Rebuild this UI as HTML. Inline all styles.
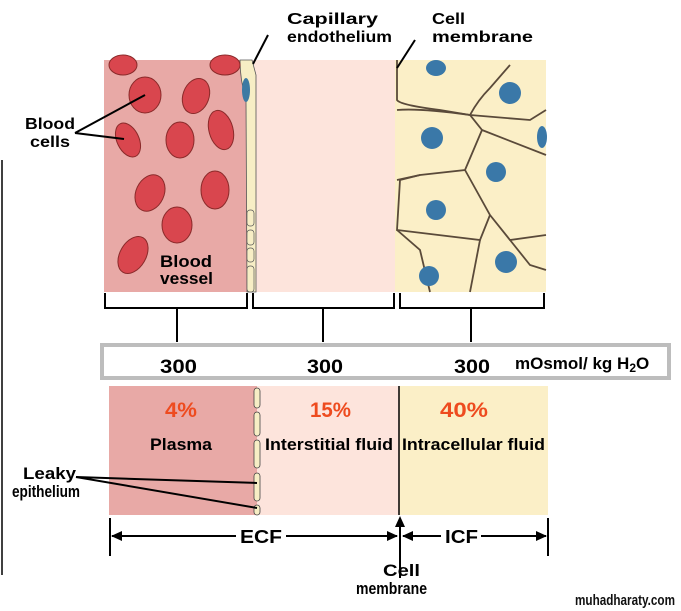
<!DOCTYPE html>
<html><head><style>body{margin:0;background:#fff}svg{display:block}text{font-family:"Liberation Sans",Arial,sans-serif;font-weight:bold}</style></head>
<body>
<svg width="681" height="611" viewBox="0 0 681 611" xmlns="http://www.w3.org/2000/svg">
<line x1="2" y1="160" x2="2" y2="575" stroke="#000" stroke-width="1.5"/>
<rect x="104" y="60" width="143" height="232" fill="#e8a9a6"/>
<rect x="252" y="60" width="143" height="232" fill="#fde4dc"/>
<rect x="395" y="60" width="151" height="232" fill="#fbefc7"/>
<path d="M240 60 L252 60 L256 75 L256 292 L247 292 L246 100 Q240 80 240 60Z" fill="#f7eec5" stroke="#555" stroke-width="0.8"/>
<ellipse cx="246" cy="90" rx="4" ry="12" fill="#3d7aa3"/>
<g fill="#d9464e" stroke="#8a2a2a" stroke-width="1">
<ellipse cx="123" cy="65" rx="14" ry="10"/><ellipse cx="145" cy="95" rx="16" ry="18"/><ellipse cx="196" cy="96" rx="13" ry="18" transform="rotate(20 196 96)"/>
<ellipse cx="225" cy="65" rx="15" ry="10"/><ellipse cx="128" cy="140" rx="11" ry="18" transform="rotate(-25 128 140)"/>
<ellipse cx="180" cy="140" rx="14" ry="18"/><ellipse cx="221" cy="130" rx="12" ry="20" transform="rotate(-15 221 130)"/>
<ellipse cx="150" cy="193" rx="14" ry="19" transform="rotate(25 150 193)"/><ellipse cx="215" cy="190" rx="14" ry="19"/>
<ellipse cx="177" cy="225" rx="15" ry="18"/><ellipse cx="133" cy="255" rx="13" ry="20" transform="rotate(30 133 255)"/>
</g>
<g fill="none" stroke="#5a4a3a" stroke-width="1.8">
<path d="M397 60 L397 100 Q400 105 440 110 L470 115 Q478 100 490 88 L510 65"/>
<path d="M397 110 Q420 108 470 115 L482 130 L465 170 L420 175 L397 180"/>
<path d="M470 115 L530 120 L546 110"/>
<path d="M482 130 L546 155"/><path d="M465 170 L490 215 L510 240 L546 235"/>
<path d="M420 175 L400 180 L397 230 L480 240 L490 215"/><path d="M397 230 L420 250 L430 292"/>
<path d="M480 240 L470 292"/><path d="M510 240 L530 265 L546 270"/>
</g>
<g fill="#3a78a8"><ellipse cx="436" cy="68" rx="10" ry="8"/><ellipse cx="510" cy="93" rx="11" ry="11"/><ellipse cx="432" cy="138" rx="11" ry="11"/>
<ellipse cx="542" cy="137" rx="5" ry="11"/><ellipse cx="496" cy="172" rx="10" ry="10"/><ellipse cx="436" cy="210" rx="10" ry="10"/>
<ellipse cx="506" cy="262" rx="11" ry="11"/><ellipse cx="429" cy="276" rx="10" ry="10"/></g>
<g fill="#f7eec5" stroke="#555" stroke-width="0.7"><rect x="247" y="210" width="7" height="16" rx="3"/><rect x="247" y="230" width="7" height="15" rx="3"/><rect x="247" y="248" width="7" height="14" rx="3"/><rect x="247" y="266" width="7" height="26" rx="3"/></g>
<text x="160" y="267" font-size="17" textLength="52" lengthAdjust="spacingAndGlyphs">Blood</text><text x="160" y="284" font-size="17" textLength="53" lengthAdjust="spacingAndGlyphs">vessel</text>
<text x="25" y="129" font-size="16" textLength="50" lengthAdjust="spacingAndGlyphs">Blood</text><text x="30" y="147" font-size="16" textLength="40" lengthAdjust="spacingAndGlyphs">cells</text>
<g stroke="#000" stroke-width="2"><line x1="75" y1="133" x2="145" y2="95"/><line x1="75" y1="133" x2="124" y2="139"/>
<line x1="268" y1="35" x2="253" y2="64"/><line x1="415" y1="40" x2="397" y2="68"/></g>
<text x="287" y="24" font-size="16" textLength="91" lengthAdjust="spacingAndGlyphs">Capillary</text><text x="287" y="42" font-size="16" textLength="105" lengthAdjust="spacingAndGlyphs">endothelium</text>
<text x="432" y="24" font-size="16" textLength="33" lengthAdjust="spacingAndGlyphs">Cell</text><text x="432" y="42" font-size="16" textLength="101" lengthAdjust="spacingAndGlyphs">membrane</text>
<g fill="none" stroke="#000" stroke-width="2">
<path d="M105 293 V308 H247 V293"/><path d="M253 293 V308 H394 V293"/><path d="M400 293 V308 H544 V293"/>
<line x1="177" y1="308" x2="177" y2="342"/><line x1="323" y1="308" x2="323" y2="342"/><line x1="471" y1="308" x2="471" y2="342"/>
</g>
<rect x="102" y="345" width="567" height="33" fill="#fff" stroke="#bdbdbd" stroke-width="4"/>
<g font-size="19"><text x="160" y="373" textLength="37" lengthAdjust="spacingAndGlyphs">300</text><text x="307" y="373" textLength="36" lengthAdjust="spacingAndGlyphs">300</text><text x="454" y="373" textLength="36" lengthAdjust="spacingAndGlyphs">300</text></g>
<text x="515" y="369" font-size="17">mOsmol/ kg H<tspan font-size="12" dy="3">2</tspan><tspan dy="-3">O</tspan></text>
<rect x="109" y="386" width="148" height="129" fill="#e8a9a6"/>
<rect x="257" y="386" width="142" height="129" fill="#fde4dc"/>
<rect x="399" y="386" width="149" height="129" fill="#fbefc7"/>
<line x1="399" y1="386" x2="399" y2="515" stroke="#000" stroke-width="1.5"/>
<g fill="#f7eec5" stroke="#444" stroke-width="0.8"><rect x="254" y="388" width="6" height="20" rx="3"/><rect x="254" y="412" width="6" height="24" rx="3"/><rect x="254" y="440" width="6" height="28" rx="3"/><rect x="254" y="473" width="6" height="28" rx="3"/><rect x="254" y="505" width="6" height="10" rx="3"/></g>
<g fill="#ee4b1f" font-size="21"><text x="165" y="417" textLength="32" lengthAdjust="spacingAndGlyphs">4%</text><text x="310" y="417" textLength="41" lengthAdjust="spacingAndGlyphs">15%</text><text x="440" y="417" textLength="48" lengthAdjust="spacingAndGlyphs">40%</text></g>
<g font-size="17"><text x="150" y="450" textLength="62" lengthAdjust="spacingAndGlyphs">Plasma</text><text x="265" y="450" textLength="128" lengthAdjust="spacingAndGlyphs">Interstitial fluid</text><text x="402" y="450" textLength="143" lengthAdjust="spacingAndGlyphs">Intracellular fluid</text></g>
<text x="23" y="479" font-size="17" textLength="53" lengthAdjust="spacingAndGlyphs">Leaky</text><text x="12" y="497" font-size="17" textLength="68" lengthAdjust="spacingAndGlyphs">epithelium</text>
<g stroke="#000" stroke-width="2"><line x1="76" y1="477" x2="257" y2="483"/><line x1="76" y1="477" x2="257" y2="508"/></g>
<g stroke="#000" stroke-width="2" fill="none">
<line x1="110" y1="518" x2="110" y2="556"/><line x1="548" y1="518" x2="548" y2="556"/><line x1="400" y1="518" x2="400" y2="578"/>
<line x1="112" y1="536" x2="236" y2="536"/><line x1="286" y1="536" x2="397" y2="536"/>
<line x1="403" y1="536" x2="441" y2="536"/><line x1="481" y1="536" x2="546" y2="536"/>
</g>
<g fill="#000"><path d="M111 536 L122 531 L122 541Z"/><path d="M398 536 L387 531 L387 541Z"/><path d="M402 536 L413 531 L413 541Z"/><path d="M547 536 L536 531 L536 541Z"/><path d="M400 516 L395 527 L405 527Z"/></g>
<text x="240" y="543" font-size="18" textLength="42" lengthAdjust="spacingAndGlyphs">ECF</text><text x="445" y="543" font-size="18" textLength="33" lengthAdjust="spacingAndGlyphs">ICF</text>
<text x="383" y="576" font-size="17" textLength="37" lengthAdjust="spacingAndGlyphs">Cell</text><text x="356" y="594" font-size="17" textLength="71" lengthAdjust="spacingAndGlyphs">membrane</text>
<text x="575" y="605" font-size="15" fill="#111" font-family="DejaVu Sans" textLength="100" lengthAdjust="spacingAndGlyphs">muhadharaty.com</text>
</svg>
</body></html>
